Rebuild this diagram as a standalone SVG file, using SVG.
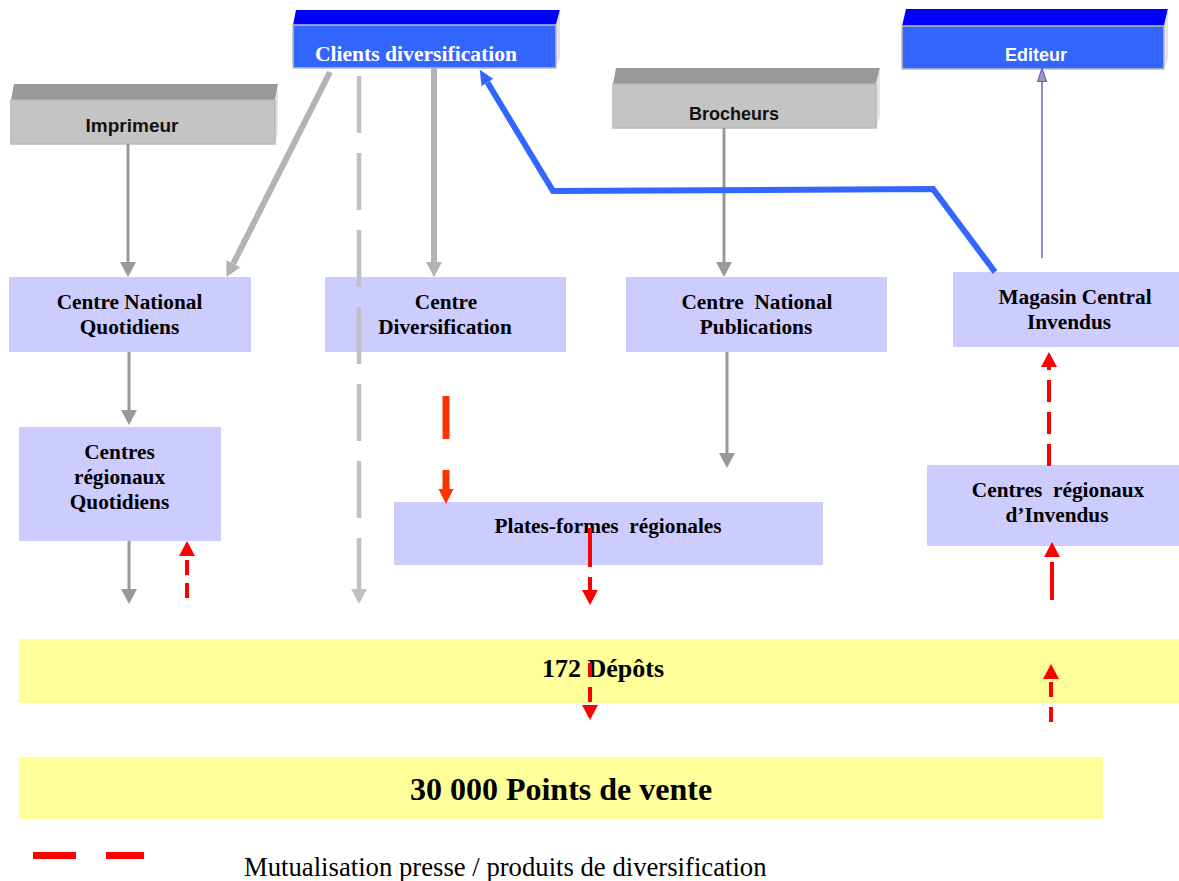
<svg xmlns="http://www.w3.org/2000/svg" width="1179" height="881" viewBox="0 0 1179 881">
<style>
.lbl{font-family:"Liberation Serif","Times New Roman",serif;font-weight:bold;font-size:21.3px;fill:#000;text-anchor:middle}
.sans{font-family:"Liberation Sans",Arial,sans-serif;font-weight:bold;font-size:18px;text-anchor:middle}
.node{fill:#ccccff}
.yel{fill:#ffff99}
.front-b{fill:#3366ff;stroke:#bdbdbd;stroke-width:1.5}
.top-b{fill:#0000ff}
.front-g{fill:#c4c4c4;stroke:#b8b8b8;stroke-width:1.5}
.top-g{fill:#999999}
.side{fill:#e4e4e4}
.g{stroke:#999999;stroke-width:3;fill:none}
.lg{stroke:#b3b3b3;stroke-width:6;fill:none}
.pg{stroke:#c0c0c0;stroke-width:4.5;fill:none}
.rd{stroke:#ff0000;stroke-width:4;fill:none}
.or{stroke:#ff3300;stroke-width:7;fill:none}
.bl{stroke:#3366ff;stroke-width:6;fill:none}
.ed{stroke:#6666cc;stroke-width:1.5;fill:none}
</style>
<defs>
<marker id="mG" markerUnits="userSpaceOnUse" orient="auto" markerWidth="16" markerHeight="16" refX="0" refY="8"><path d="M0,0 L15,8 L0,16 z" fill="#999999"/></marker>
<marker id="mLG" markerUnits="userSpaceOnUse" orient="auto" markerWidth="16" markerHeight="16" refX="0" refY="8"><path d="M0,0 L15,8 L0,16 z" fill="#b3b3b3"/></marker>
<marker id="mPG" markerUnits="userSpaceOnUse" orient="auto" markerWidth="16" markerHeight="16" refX="0" refY="8"><path d="M0,0 L15,8 L0,16 z" fill="#c0c0c0"/></marker>
<marker id="mR" markerUnits="userSpaceOnUse" orient="auto" markerWidth="16" markerHeight="16" refX="0" refY="8"><path d="M0,0 L15,8 L0,16 z" fill="#ff0000"/></marker>
<marker id="mO" markerUnits="userSpaceOnUse" orient="auto" markerWidth="16" markerHeight="16" refX="0" refY="8"><path d="M0,0.5 L15,8 L0,15.5 z" fill="#ff3300"/></marker>
<marker id="mB" markerUnits="userSpaceOnUse" orient="auto" markerWidth="16" markerHeight="16" refX="0" refY="8"><path d="M0,1 L15,8 L0,15 z" fill="#3366ff"/></marker>
<marker id="mE" markerUnits="userSpaceOnUse" orient="auto" markerWidth="16" markerHeight="12" refX="0" refY="6"><path d="M0.5,1.5 L14,6 L0.5,10.5 z" fill="#9999bb" stroke="#5555cc" stroke-width="1"/></marker>
</defs>

<g id="clients-diversification">
<polygon class="top-b" points="293,25 296,10 560,10 556,25"/>
<polygon class="side" points="556,25 560,10 560,57 556,68"/>
<rect class="front-b" x="293" y="25" width="263" height="43"/>
<text class="lbl" x="416" y="61" style="fill:#ffffff;font-size:21.6px">Clients diversification</text>
</g>

<g id="editeur">
<polygon class="top-b" points="902,26 906,9 1168,9 1164,26"/>
<polygon class="side" points="1164,26 1168,9 1168,58 1164,69"/>
<rect class="front-b" x="902" y="26" width="262" height="43"/>
<text class="sans" x="1036" y="61" style="fill:#ffffff">Editeur</text>
</g>

<g id="imprimeur">
<polygon class="top-g" points="11,100 14,84 278,84 275,100"/>
<polygon class="side" points="275,100 278,84 278,133 275,144"/>
<rect class="front-g" x="11" y="100" width="264" height="44"/>
<text class="sans" x="132" y="132" style="fill:#111;font-size:19px">Imprimeur</text>
</g>

<g id="brocheurs">
<polygon class="top-g" points="613,84 616,68 880,68 876,84"/>
<polygon class="side" points="876,84 880,68 880,117 876,128"/>
<rect class="front-g" x="613" y="84" width="263" height="44"/>
<text class="sans" x="734" y="120" style="fill:#111">Brocheurs</text>
</g>

<g id="centre-national-quotidiens">
<rect class="node" x="9" y="277" width="242" height="75"/>
<text class="lbl" x="129.5" y="309">Centre National</text>
<text class="lbl" x="129.5" y="334">Quotidiens</text>
</g>

<g id="centre-diversification">
<rect class="node" x="325" y="277" width="241" height="75"/>
<text class="lbl" x="446" y="309">Centre</text>
<text class="lbl" x="445" y="334">Diversification</text>
</g>

<g id="centre-national-publications">
<rect class="node" x="626" y="277" width="261" height="75"/>
<text class="lbl" x="757" y="309" xml:space="preserve">Centre  National</text>
<text class="lbl" x="756" y="334">Publications</text>
</g>

<g id="magasin-central-invendus">
<rect class="node" x="953" y="272" width="226" height="75"/>
<text class="lbl" x="1075" y="304">Magasin Central</text>
<text class="lbl" x="1069" y="329">Invendus</text>
</g>

<g id="centres-regionaux-quotidiens">
<rect class="node" x="19" y="427" width="202" height="114"/>
<text class="lbl" x="119.5" y="459">Centres</text>
<text class="lbl" x="119.5" y="484">régionaux</text>
<text class="lbl" x="119.5" y="509">Quotidiens</text>
</g>

<g id="plates-formes-regionales">
<rect class="node" x="394" y="502" width="429" height="63"/>
<text class="lbl" x="608" y="533" xml:space="preserve">Plates-formes  régionales</text>
</g>

<g id="centres-regionaux-invendus">
<rect class="node" x="927" y="465" width="252" height="81"/>
<text class="lbl" x="1058" y="497" xml:space="preserve">Centres  régionaux</text>
<text class="lbl" x="1057" y="522">d’Invendus</text>
</g>

<g id="depots">
<rect class="yel" x="19" y="639" width="1160" height="64"/>
<text class="lbl" x="603" y="677" style="font-size:26px">172 Dépôts</text>
</g>

<g id="points-de-vente">
<rect class="yel" x="19" y="757" width="1084" height="62"/>
<text class="lbl" x="561" y="800" style="font-size:32px">30 000 Points de vente</text>
</g>

<g id="connectors">
<line class="g" x1="128" y1="144" x2="128" y2="262" marker-end="url(#mG)"/>
<line class="lg" x1="330" y1="72" x2="233.3" y2="263.5" marker-end="url(#mLG)"/>
<line class="pg" x1="359" y1="76" x2="359" y2="589" stroke-dasharray="57 20" marker-end="url(#mPG)"/>
<line class="lg" x1="434" y1="68" x2="434" y2="262" marker-end="url(#mLG)"/>
<line class="g" x1="724" y1="128" x2="724" y2="262" marker-end="url(#mG)"/>
<line class="g" x1="727" y1="352" x2="727" y2="453" marker-end="url(#mG)"/>
<line class="g" x1="129" y1="352" x2="129" y2="410" marker-end="url(#mG)"/>
<line class="g" x1="129" y1="541" x2="129" y2="589" marker-end="url(#mG)"/>
<polyline class="bl" points="995,272 933,189 553,191 487.5,82.5" marker-end="url(#mB)"/>
<line class="ed" x1="1042" y1="258" x2="1042" y2="82" marker-end="url(#mE)"/>
<line class="rd" x1="187" y1="598" x2="187" y2="556" stroke-dasharray="15 8" marker-end="url(#mR)"/>
<line class="or" x1="446" y1="396" x2="446" y2="489" stroke-dasharray="43 31 19 10" marker-end="url(#mO)"/>
<line class="rd" x1="590" y1="528" x2="590" y2="590" stroke-dasharray="39 10 13 100" marker-end="url(#mR)"/>
<line class="rd" x1="590" y1="663" x2="590" y2="705" stroke-dasharray="14 10 15 10" marker-end="url(#mR)"/>
<line class="rd" x1="1051" y1="722" x2="1051" y2="679" stroke-dasharray="15 10" marker-end="url(#mR)"/>
<line class="rd" x1="1052" y1="600" x2="1052" y2="557" stroke-dasharray="38 10" marker-end="url(#mR)"/>
<line class="rd" x1="1049" y1="466" x2="1049" y2="367" stroke-dasharray="22 10" marker-end="url(#mR)"/>
</g>

<g id="legend">
<rect x="33" y="852" width="43" height="7" fill="#ff0000"/>
<rect x="106" y="852" width="38" height="7" fill="#ff0000"/>
<text x="244" y="876" style="font-family:'Liberation Serif','Times New Roman',serif;font-size:26.7px;fill:#000">Mutualisation presse / produits de diversification</text>
</g>
</svg>
